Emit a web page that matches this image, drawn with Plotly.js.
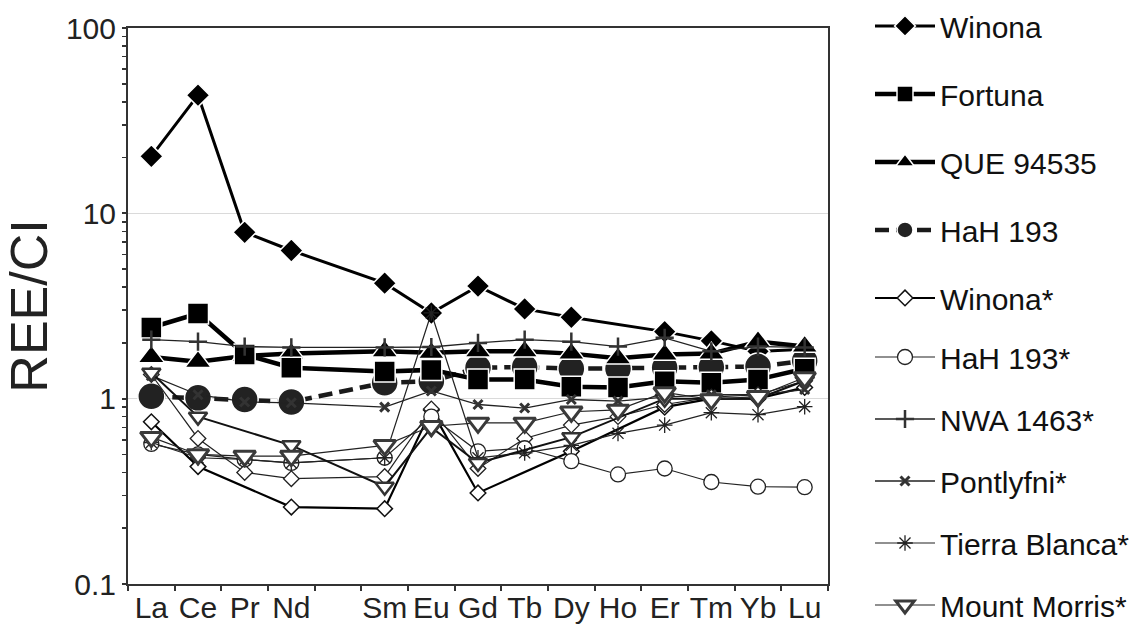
<!DOCTYPE html>
<html>
<head>
<meta charset="utf-8">
<script src="https://cdn.plot.ly/plotly-3.0.1.min.js"></script>
<style>
  html, body { margin: 0; padding: 0; background: #ffffff; }
  #chart { width: 1140px; height: 626px; }
</style>
</head>
<body>
<div id="chart"></div>
<script>
// Element categories (Pm is a gap on the axis)
const elements = ["La","Ce","Pr","Nd","Pm","Sm","Eu","Gd","Tb","Dy","Ho","Er","Tm","Yb","Lu"];
const tickLabels = ["La","Ce","Pr","Nd","","Sm","Eu","Gd","Tb","Dy","Ho","Er","Tm","Yb","Lu"];

// Y axis ticks
const yMajorVals = [0.1, 1, 10, 100];
const yMajorText = ["0.1", "1", "10", "100"];
const yMinorVals = [0.2,0.3,0.4,0.5,0.6,0.7,0.8,0.9, 2,3,4,5,6,7,8,9, 20,30,40,50,60,70,80,90];

// Series values (REE / CI), null = not measured
const winona      = [20.3, 43.4, 7.9, 6.3, null, 4.2, 2.9, 4.05, 3.05, 2.75, null, 2.3, 2.05, 1.8, 1.85];
const fortuna     = [2.42, 2.88, 1.73, 1.47, null, 1.40, 1.43, 1.27, 1.27, 1.16, 1.15, 1.24, 1.22, 1.27, 1.45];
const que94535    = [1.68, 1.58, 1.70, 1.75, null, 1.80, 1.77, 1.80, 1.80, 1.75, 1.65, 1.73, 1.75, 2.03, 1.91];
const hah193      = [1.03, 1.01, 0.99, 0.96, null, 1.22, 1.24, 1.47, 1.48, 1.45, 1.45, 1.47, 1.48, 1.49, 1.60];
const winonaStarA = [0.75, 0.43, null, 0.26, null, 0.255, 0.87, 0.31, null, 0.52, null, 0.90, 1.0, 1.0, 1.15];
const winonaStarB = [1.35, 0.61, 0.40, 0.37, null, 0.38, 0.88, 0.42, 0.61, 0.72, 0.80, 0.93, 1.02, 1.05, 1.25];
const hah193Star  = [0.57, 0.50, 0.47, 0.45, null, 0.48, 0.80, 0.52, 0.54, 0.46, 0.39, 0.42, 0.355, 0.335, 0.333];
const nwa1463     = [2.08, 2.03, 1.91, 1.89, null, 1.89, 1.90, 2.0, 2.08, 2.03, 1.91, 2.13, 1.80, 1.91, 1.89];
const pontlyfni   = [1.33, 1.05, 0.96, 0.95, null, 0.90, 1.10, 0.93, 0.89, 0.99, 0.97, 1.02, 1.05, 1.05, 1.12];
const tierraBlanca= [0.58, 0.48, 0.47, 0.45, null, 0.48, 2.9, 0.48, 0.51, 0.56, 0.65, 0.72, 0.84, 0.82, 0.905];
const mountMorrisA= [1.38, 0.80, null, 0.56, null, 0.335, 0.70, 0.45, null, 0.62, null, 1.0, 1.0, 1.0, 1.25];
const mountMorrisB= [0.62, 0.50, 0.49, 0.49, null, 0.56, 0.71, 0.74, 0.74, 0.85, 0.87, 1.08, 0.99, 1.03, 1.30];

const FONT = "Liberation Sans, Arial, Helvetica, sans-serif";

function tr(name, y, opts) {
  return Object.assign({
    type: "scatter",
    mode: "lines+markers",
    name: name,
    x: elements,
    y: y,
    connectgaps: true,
    cliponaxis: false,
    legendgroup: name
  }, opts);
}

const data = [
  tr("Winona", winona, {
    legendrank: 1,
    line: {color: "#000", width: 3},
    marker: {symbol: "diamond", size: 18, color: "#000", line: {color: "#fff", width: 1.5}}
  }),
  tr("HaH 193", hah193, {
    legendrank: 4,
    line: {color: "#1a1a1a", width: 4.5, dash: "14px,7px"},
    marker: {symbol: "circle", size: 27, color: "#222", line: {color: "#fff", width: 1.5}}
  }),
  tr("QUE 94535", que94535, {
    legendrank: 3,
    line: {color: "#000", width: 4.5},
    marker: {symbol: "triangle-up", size: 23, color: "#000", line: {color: "#fff", width: 1.5}}
  }),
  tr("Fortuna", fortuna, {
    legendrank: 2,
    line: {color: "#000", width: 4.5},
    marker: {symbol: "square", size: 21, color: "#000", line: {color: "#fff", width: 1.5}}
  }),
  tr("Winona*", winonaStarA, {
    legendrank: 5,
    line: {color: "#000", width: 2.2},
    marker: {symbol: "diamond", size: 12, color: "#fff", line: {color: "#111", width: 1.5}}
  }),
  tr("Winona*", winonaStarB, {
    legendrank: 5, showlegend: false,
    line: {color: "#222", width: 1.2},
    marker: {symbol: "diamond", size: 12, color: "#fff", line: {color: "#222", width: 1.3}}
  }),
  tr("HaH 193*", hah193Star, {
    legend: "legend2", legendrank: 6,
    line: {color: "#222", width: 1.2},
    marker: {symbol: "circle", size: 15, color: "#fff", line: {color: "#222", width: 1.3}}
  }),
  tr("NWA 1463*", nwa1463, {
    legend: "legend2", legendrank: 7,
    line: {color: "#222", width: 1.3},
    marker: {symbol: "cross-thin", size: 13, color: "#333", line: {color: "#333", width: 2.5}}
  }),
  tr("Pontlyfni*", pontlyfni, {
    legend: "legend2", legendrank: 8,
    line: {color: "#222", width: 1.3},
    marker: {symbol: "x-thin", size: 9, color: "#333", line: {color: "#333", width: 3}}
  }),
  tr("Tierra Blanca*", tierraBlanca, {
    legend: "legend2", legendrank: 9,
    line: {color: "#222", width: 1.2},
    marker: {symbol: "asterisk", size: 13, color: "#222", line: {color: "#222", width: 1.3}}
  }),
  tr("Mount Morris*", mountMorrisA, {
    legend: "legend2", legendrank: 10, showlegend: false,
    line: {color: "#111", width: 2},
    marker: {symbol: "triangle-down", size: 16, color: "#fff", line: {color: "#333", width: 2.5}}
  }),
  tr("Mount Morris*", mountMorrisB, {
    legend: "legend2", legendrank: 10,
    line: {color: "#222", width: 1.2},
    marker: {symbol: "triangle-down", size: 19, color: "#fff", line: {color: "#3a3a3a", width: 3}}
  })
];

const legendBase = {
  xanchor: "left",
  yanchor: "top",
  font: {family: FONT, size: 30, color: "#111"},
  itemwidth: 60,
  traceorder: "grouped",
  bgcolor: "rgba(0,0,0,0)"
};

const layout = {
  width: 1140,
  height: 626,
  paper_bgcolor: "#fff",
  plot_bgcolor: "#fff",
  font: {family: FONT, color: "#222"},
  margin: {l: 128, r: 312, t: 28, b: 42, autoexpand: false},
  showlegend: true,
  legend: Object.assign({}, legendBase, {x: 1.06, y: 1.0504, tracegroupgap: 26}),
  legend2: Object.assign({}, legendBase, {x: 1.06, y: 0.455, tracegroupgap: 20}),
  xaxis: {
    type: "category",
    categoryorder: "array",
    categoryarray: elements,
    range: [-0.5, 14.5],
    tickmode: "array",
    tickvals: elements,
    ticktext: tickLabels,
    tickangle: 0,
    tickson: "boundaries",
    ticks: "outside",
    ticklen: 5,
    tickwidth: 2,
    tickcolor: "#333",
    ticklabelstandoff: -4,
    showline: true,
    linecolor: "#333",
    linewidth: 2,
    mirror: true,
    showgrid: false,
    zeroline: false,
    automargin: false,
    tickfont: {family: FONT, size: 30, color: "#222"}
  },
  xaxis2: {
    type: "category",
    overlaying: "x",
    anchor: "y",
    side: "bottom",
    categoryorder: "array",
    categoryarray: elements,
    range: [-0.5, 14.5],
    tickmode: "array",
    tickvals: elements,
    tickson: "boundaries",
    ticks: "inside",
    ticklen: 7,
    tickwidth: 2,
    tickcolor: "#333",
    showticklabels: false,
    showline: false,
    showgrid: false,
    zeroline: false
  },
  yaxis: {
    type: "log",
    range: [-1, 2],
    tickmode: "array",
    tickvals: yMajorVals,
    ticktext: yMajorText,
    ticks: "outside",
    ticklen: 4,
    tickwidth: 2,
    tickcolor: "#333",
    minor: {tickvals: yMinorVals, ticks: "outside", ticklen: 4, tickwidth: 1.5, tickcolor: "#333", showgrid: false},
    showgrid: true,
    gridcolor: "#dadada",
    gridwidth: 1.5,
    showline: true,
    linecolor: "#333",
    linewidth: 2,
    mirror: true,
    zeroline: false,
    automargin: false,
    ticklabelstandoff: 0,
    tickfont: {family: FONT, size: 30, color: "#222"},
    title: {text: "REE/CI", font: {family: FONT, size: 52, color: "#222"}, standoff: 18}
  },
  yaxis2: {
    type: "log",
    overlaying: "y",
    anchor: "x",
    side: "left",
    range: [-1, 2],
    tickmode: "array",
    tickvals: yMajorVals.concat(yMinorVals),
    ticks: "inside",
    ticklen: 5,
    tickwidth: 1.5,
    tickcolor: "#333",
    showticklabels: false,
    showline: false,
    showgrid: false,
    zeroline: false
  }
};

Plotly.newPlot("chart", data, layout, {displayModeBar: false, staticPlot: true});
</script>
</body>
</html>
